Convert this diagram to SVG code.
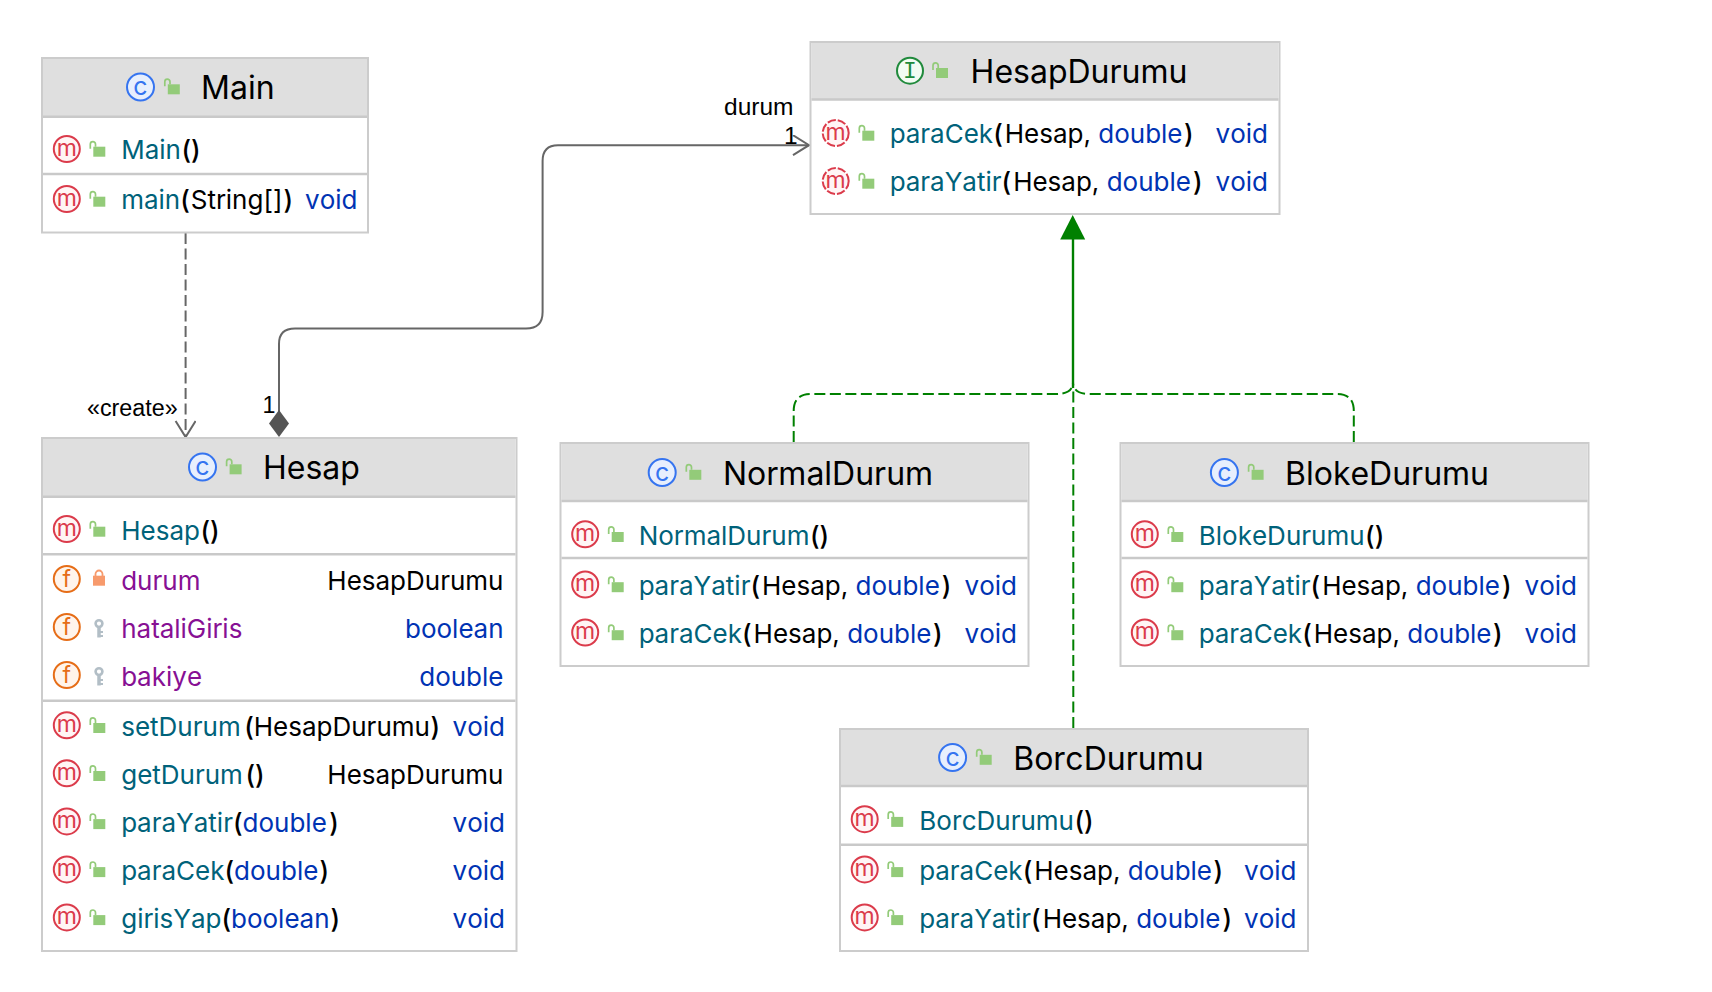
<svg xmlns="http://www.w3.org/2000/svg" width="1712" height="992" viewBox="0 0 1712 992">
<style>
text{font-family:"Inter","Liberation Sans",sans-serif;font-kerning:none}
.box{fill:#fff;stroke:#cccccc;stroke-width:2}
.hd{fill:#dfdfdf}
.div{stroke:#c9c9c9;stroke-width:2.5;fill:none}
.t{font-size:32px;fill:#000}
.r{font-size:26px;fill:#000}
.e{text-anchor:end}
.mn{fill:#00627a}
.fd{fill:#871094}
.kw{fill:#0033b3}
.p{font-weight:500}
.lb{font-family:"Liberation Sans",Arial,sans-serif;font-size:23.300px;fill:#000}
.ci{font-size:23px;font-weight:400;text-anchor:middle}
.gc{fill:none;stroke:#666;stroke-width:2}
.gr{fill:none;stroke:#008000;stroke-width:2}
</style>
<defs>
<g id="lock"><rect x="-4" y="-3" width="12" height="10" fill="#93cb79"/><path d="M-7 -1V-5.500A2.600 2.600 0 0 1 -1.800 -5.500V-3" fill="none" stroke="#93cb79" stroke-width="1.700"/></g>
<g id="plock"><rect x="-6" y="-3.300" width="12" height="10" fill="#f79a6c"/><path d="M-3.500 -3V-5A3.500 3.500 0 0 1 3.500 -5V-3" fill="none" stroke="#f79a6c" stroke-width="1.800"/></g>
<g id="key"><circle cx="0" cy="-3.400" r="3.400" fill="none" stroke="#b2bec6" stroke-width="2.600"/><path d="M0 -1V10.500" fill="none" stroke="#b2bec6" stroke-width="3.500"/><path d="M0 5H4M0 9H4" fill="none" stroke="#b2bec6" stroke-width="2.200"/></g>
<g id="im"><circle r="13" fill="#fff5f5" stroke="#db3b4b" stroke-width="2"/><text y="6.500" class="ci" fill="#db3b4b">m</text></g>
<g id="ia"><circle r="13" fill="#fff5f5" stroke="#db3b4b" stroke-width="2" stroke-dasharray="8.500 2"/><text y="6.500" class="ci" fill="#db3b4b">m</text></g>
<g id="if"><circle r="13" fill="#fff4eb" stroke="#e66d17" stroke-width="2"/><text y="8" class="ci" fill="#e66d17">f</text></g>
<g id="ic"><circle r="13.500" fill="#e7effd" stroke="#3574f0" stroke-width="2"/><text y="8" class="ci" style="font-size:25px" fill="#3574f0">c</text></g>
<g id="ii"><circle r="13" fill="#f2fcf3" stroke="#208a3c" stroke-width="2"/><text y="7.500" text-anchor="middle" font-size="23" fill="#208a3c" style="font-family:'Liberation Mono',monospace">I</text></g>
<marker id="open" markerWidth="24" markerHeight="24" refX="18" refY="10" orient="auto" markerUnits="userSpaceOnUse"><path d="M2 0L18 10L2 20" fill="none" stroke="#666" stroke-width="2"/></marker>
</defs>

<g id="connectors">
<path class="gc" stroke-dasharray="11 4.500" d="M185.600 233V437" marker-end="url(#open)"/>
<path class="gc" d="M279 412V344Q279 328.600 295 328.600H526Q542.600 328.600 542.600 312V161Q542.600 145.200 558 145.200H809" marker-end="url(#open)"/>
<path d="M279 410L289 423.500L279 437L269 423.500Z" fill="#555"/>
<path class="gr" style="stroke-width:2.400" d="M1073 239V388"/>
<path class="gr" stroke-dasharray="11 4.500" d="M793.700 442V411Q793.700 394 811 394H1056Q1073 394 1073 382"/>
<path class="gr" stroke-dasharray="11 4.500" d="M1353.800 442V411Q1353.800 394 1337 394H1090Q1073 394 1073 382"/>
<path class="gr" stroke-dasharray="11 4.500" d="M1073.300 728V388"/>
<path d="M1072.700 215L1085.200 239.500H1060.200Z" fill="#008000"/>
<text class="lb" x="87" y="416">«create»</text>
<text class="lb" x="262.500" y="413">1</text>
<text class="lb" x="724" y="115" style="font-size:24.500px">durum</text>
<text class="lb" x="784" y="144" style="font-size:24.500px">1</text>
</g>

<g id="Main">
<rect class="box" x="42" y="58" width="326" height="174.500"/>
<rect class="hd" x="43" y="59" width="324" height="57.800"/>
<path class="div" d="M43 116.800H367M43 174H367"/>
<use href="#ic" x="140.500" y="87"/><use href="#lock" x="171.800" y="87.300"/>
<text class="t" x="201" y="98.500">Main</text>
<use href="#im" x="66.800" y="149"/><use href="#lock" x="97.300" y="149.700"/>
<text class="r" x="121.200" y="159.300"><tspan class="mn">Main</tspan><tspan dx="0.500" class="p">()</tspan></text>
<use href="#im" x="66.800" y="199"/><use href="#lock" x="97.300" y="199.700"/>
<text class="r" x="121.200" y="209.300"><tspan class="mn">main</tspan><tspan class="p">(</tspan><tspan dx="1">String[]</tspan><tspan dx="1" class="p">)</tspan></text>
<text class="r e kw" x="357.500" y="209.300">void</text>
</g>

<g id="HesapDurumu">
<rect class="box" x="810.500" y="42" width="469" height="172"/>
<rect class="hd" x="811.500" y="43" width="467" height="56.400"/>
<path class="div" d="M811.500 99.400H1278.500"/>
<use href="#ii" x="910" y="70.700"/><use href="#lock" x="940" y="71"/>
<text class="t" x="970.600" y="82.500">HesapDurumu</text>
<use href="#ia" x="835.700" y="133"/><use href="#lock" x="866.300" y="133.700"/>
<text class="r" x="889.800" y="143.300"><tspan class="mn">paraCek</tspan><tspan class="p">(</tspan><tspan dx="2">Hesap, </tspan><tspan class="kw">double</tspan><tspan dx="1.500" class="p">)</tspan></text>
<text class="r e kw" x="1268" y="143.300">void</text>
<use href="#ia" x="835.700" y="181"/><use href="#lock" x="866.300" y="181.700"/>
<text class="r" x="889.800" y="191.300"><tspan class="mn">paraYatir</tspan><tspan class="p">(</tspan><tspan dx="2">Hesap, </tspan><tspan class="kw">double</tspan><tspan dx="2" class="p">)</tspan></text>
<text class="r e kw" x="1268" y="191.300">void</text>
</g>

<g id="Hesap">
<rect class="box" x="42" y="438" width="474.500" height="513"/>
<rect class="hd" x="43" y="439" width="472.500" height="57.800"/>
<path class="div" d="M43 496.800H515.500M43 554.300H515.500M43 700.800H515.500"/>
<use href="#ic" x="202.500" y="467"/><use href="#lock" x="233.600" y="467.300"/>
<text class="t" x="263" y="478.800">Hesap</text>
<use href="#im" x="66.800" y="529"/><use href="#lock" x="97.300" y="529.700"/>
<text class="r" x="121.200" y="540"><tspan class="mn">Hesap</tspan><tspan dx="0.500" class="p">()</tspan></text>
<use href="#if" x="66.800" y="579"/><use href="#plock" x="99" y="579"/>
<text class="r fd" x="121.200" y="590">durum</text>
<text class="r e" x="503.500" y="590">HesapDurumu</text>
<use href="#if" x="66.800" y="627"/><use href="#key" x="99" y="627"/>
<text class="r fd" x="121.200" y="638">hataliGiris</text>
<text class="r e kw" x="503.500" y="638">boolean</text>
<use href="#if" x="66.800" y="675"/><use href="#key" x="99" y="675"/>
<text class="r fd" x="121.200" y="686">bakiye</text>
<text class="r e kw" x="503.500" y="686">double</text>
<use href="#im" x="66.800" y="725.300"/><use href="#lock" x="97.300" y="726"/>
<text class="r" x="121.200" y="736.300"><tspan class="mn">setDurum</tspan><tspan dx="3.500" class="p">(</tspan>HesapDurumu<tspan dx="0.500" class="p">)</tspan></text>
<text class="r e kw" x="505" y="736.300">void</text>
<use href="#im" x="66.800" y="773.300"/><use href="#lock" x="97.300" y="774"/>
<text class="r" x="121.200" y="784.300"><tspan class="mn">getDurum</tspan><tspan dx="2.500" class="p">()</tspan></text>
<text class="r e" x="503.500" y="784.300">HesapDurumu</text>
<use href="#im" x="66.800" y="821.400"/><use href="#lock" x="97.300" y="822.100"/>
<text class="r" x="121.200" y="832.400"><tspan class="mn">paraYatir</tspan><tspan class="p">(</tspan><tspan class="kw">double</tspan><tspan dx="2.500" class="p">)</tspan></text>
<text class="r e kw" x="505" y="832.400">void</text>
<use href="#im" x="66.800" y="869.400"/><use href="#lock" x="97.300" y="870.100"/>
<text class="r" x="121.200" y="880.400"><tspan class="mn">paraCek</tspan><tspan class="p">(</tspan><tspan class="kw">double</tspan><tspan dx="1" class="p">)</tspan></text>
<text class="r e kw" x="505" y="880.400">void</text>
<use href="#im" x="66.800" y="917.400"/><use href="#lock" x="97.300" y="918.100"/>
<text class="r" x="121.200" y="928.400"><tspan class="mn">girisYap</tspan><tspan class="p">(</tspan><tspan class="kw">boolean</tspan><tspan dx="1" class="p">)</tspan></text>
<text class="r e kw" x="505" y="928.400">void</text>
</g>

<g id="NormalDurum">
<rect class="box" x="560.500" y="443" width="468" height="223"/>
<rect class="hd" x="561.500" y="444" width="466" height="57"/>
<path class="div" d="M561.500 501H1027.500M561.500 558H1027.500"/>
<use href="#ic" x="662.200" y="472.500"/><use href="#lock" x="693.300" y="472.800"/>
<text class="t" x="723" y="485.200">NormalDurum</text>
<use href="#im" x="585.200" y="534.300"/><use href="#lock" x="615.700" y="535"/>
<text class="r" x="638.700" y="545.300"><tspan class="mn">NormalDurum</tspan><tspan dx="0.500" class="p">()</tspan></text>
<use href="#im" x="585.200" y="584.500"/><use href="#lock" x="615.700" y="585.200"/>
<text class="r" x="638.700" y="594.800"><tspan class="mn">paraYatir</tspan><tspan class="p">(</tspan><tspan dx="2">Hesap, </tspan><tspan class="kw">double</tspan><tspan dx="2" class="p">)</tspan></text>
<text class="r e kw" x="1017" y="594.800">void</text>
<use href="#im" x="585.200" y="632.500"/><use href="#lock" x="615.700" y="633.200"/>
<text class="r" x="638.700" y="642.800"><tspan class="mn">paraCek</tspan><tspan class="p">(</tspan><tspan dx="2">Hesap, </tspan><tspan class="kw">double</tspan><tspan dx="1.500" class="p">)</tspan></text>
<text class="r e kw" x="1017" y="642.800">void</text>
</g>

<g id="BlokeDurumu">
<rect class="box" x="1120.500" y="443" width="468" height="223"/>
<rect class="hd" x="1121.500" y="444" width="466" height="57"/>
<path class="div" d="M1121.500 501H1587.500M1121.500 558H1587.500"/>
<use href="#ic" x="1224.400" y="472.500"/><use href="#lock" x="1255.600" y="472.800"/>
<text class="t" x="1285" y="485.200">BlokeDurumu</text>
<use href="#im" x="1144.800" y="534.300"/><use href="#lock" x="1175.300" y="535"/>
<text class="r" x="1198.800" y="545.300"><tspan class="mn">BlokeDurumu</tspan><tspan dx="0.500" class="p">()</tspan></text>
<use href="#im" x="1144.800" y="584.500"/><use href="#lock" x="1175.300" y="585.200"/>
<text class="r" x="1198.800" y="594.800"><tspan class="mn">paraYatir</tspan><tspan class="p">(</tspan><tspan dx="2">Hesap, </tspan><tspan class="kw">double</tspan><tspan dx="2" class="p">)</tspan></text>
<text class="r e kw" x="1577" y="594.800">void</text>
<use href="#im" x="1144.800" y="632.500"/><use href="#lock" x="1175.300" y="633.200"/>
<text class="r" x="1198.800" y="642.800"><tspan class="mn">paraCek</tspan><tspan class="p">(</tspan><tspan dx="2">Hesap, </tspan><tspan class="kw">double</tspan><tspan dx="1.500" class="p">)</tspan></text>
<text class="r e kw" x="1577" y="642.800">void</text>
</g>

<g id="BorcDurumu">
<rect class="box" x="840" y="729" width="468" height="222"/>
<rect class="hd" x="841" y="730" width="466" height="56"/>
<path class="div" d="M841 786H1307M841 844.800H1307"/>
<use href="#ic" x="952.600" y="757.500"/><use href="#lock" x="983.700" y="757.800"/>
<text class="t" x="1013.200" y="770.200">BorcDurumu</text>
<use href="#im" x="864.700" y="819.200"/><use href="#lock" x="895.200" y="819.900"/>
<text class="r" x="919.300" y="830.200"><tspan class="mn">BorcDurumu</tspan><tspan dx="0.500" class="p">()</tspan></text>
<use href="#im" x="864.700" y="869.400"/><use href="#lock" x="895.200" y="870.100"/>
<text class="r" x="919.300" y="880.400"><tspan class="mn">paraCek</tspan><tspan class="p">(</tspan><tspan dx="2">Hesap, </tspan><tspan class="kw">double</tspan><tspan dx="1.500" class="p">)</tspan></text>
<text class="r e kw" x="1296.500" y="880.400">void</text>
<use href="#im" x="864.700" y="917.400"/><use href="#lock" x="895.200" y="918.100"/>
<text class="r" x="919.300" y="928.400"><tspan class="mn">paraYatir</tspan><tspan class="p">(</tspan><tspan dx="2">Hesap, </tspan><tspan class="kw">double</tspan><tspan dx="2" class="p">)</tspan></text>
<text class="r e kw" x="1296.500" y="928.400">void</text>
</g>
</svg>
